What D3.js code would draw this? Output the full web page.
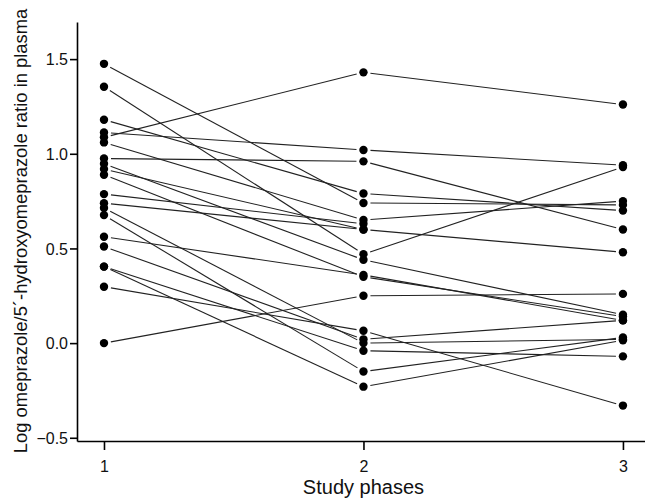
<!DOCTYPE html>
<html>
<head>
<meta charset="utf-8">
<script src="https://cdn.jsdelivr.net/npm/d3@7"></script>
<style>
  body { margin: 0; background: #fff; }
  svg { display: block; font-family: "Liberation Sans", Arial, sans-serif; }
</style>
</head>
<body>
<div id="chart"></div>
<script>
// 各被験者の値（フェーズ1, 2, 3）
const phases = [1, 2, 3];
const phase1 = [1.475, 1.354, 1.18, 1.112, 1.087, 1.06, 0.975, 0.947, 0.919, 0.889, 0.787, 0.739, 0.714, 0.676, 0.562, 0.51, 0.404, 0.404, 0.298, 0.00];
const phase2 = [0.74, 0.47, 0.79, 1.02, 1.43, 0.65, 0.96, 0.44, 0.60, 0.35, 0.63, 0.60, 0.00, -0.15, 0.36, 0.02, -0.04, -0.23, 0.065, 0.25];
const phase3 = [0.73, 0.93, 0.70, 0.94, 1.26, 0.75, 0.60, 0.15, 0.48, 0.14, null, null, 0.02, 0.03, 0.12, 0.12, -0.07, 0.015, -0.33, 0.26];
const yTicks = [-0.5, 0.0, 0.5, 1.0, 1.5];

const width = 645, height = 498;
const svg = d3.select('#chart').append('svg')
  .attr('width', width).attr('height', height);

const x = d3.scaleLinear().domain([0.896, 3.085]).range([77, 645]);
const y = d3.scaleLinear().domain([-0.517, 1.696]).range([441, 22]);

const subjects = phase1.map((v, i) => [v, phase2[i], phase3[i]]);

// 線（点から少し離して描く）
const gap = 7;
const segs = [];
subjects.forEach(s => {
  for (let k = 0; k < 2; k++) {
    if (s[k] == null || s[k + 1] == null) continue;
    const x1 = x(phases[k]), y1 = y(s[k]), x2 = x(phases[k + 1]), y2 = y(s[k + 1]);
    const len = Math.hypot(x2 - x1, y2 - y1);
    const ux = (x2 - x1) / len, uy = (y2 - y1) / len;
    segs.push([x1 + ux * gap, y1 + uy * gap, x2 - ux * gap, y2 - uy * gap]);
  }
});
svg.append('g').selectAll('line').data(segs).enter().append('line')
  .attr('x1', d => d[0]).attr('y1', d => d[1])
  .attr('x2', d => d[2]).attr('y2', d => d[3])
  .attr('stroke', '#222').attr('stroke-width', 1.1);

// 点
const pts = [];
subjects.forEach(s => s.forEach((v, k) => { if (v != null) pts.push([phases[k], v]); }));
svg.append('g').selectAll('circle').data(pts).enter().append('circle')
  .attr('cx', d => x(d[0])).attr('cy', d => y(d[1]))
  .attr('r', 4.2).attr('fill', '#000');

// 軸
const yAxis = svg.append('g').attr('transform', 'translate(77,0)')
  .call(d3.axisLeft(y).tickValues(yTicks).tickFormat(d3.format('.1f')).tickSize(7).tickSizeOuter(0));
const xAxis = svg.append('g').attr('transform', 'translate(0,441)')
  .call(d3.axisBottom(x).tickValues(phases).tickFormat(d3.format('d')).tickSize(9).tickSizeOuter(0));

[yAxis, xAxis].forEach(a => {
  a.select('.domain').attr('stroke', '#000').attr('stroke-width', 1.6);
  a.selectAll('.tick line').attr('stroke', '#000').attr('stroke-width', 1.6);
  a.selectAll('.tick text').attr('fill', '#111').style('font-size', '16px');
});
yAxis.selectAll('.tick text').attr('x', -9).attr('dy', '0.36em');
xAxis.selectAll('.tick text').attr('y', 20);

// 軸タイトル
svg.append('text')
  .attr('transform', `translate(27,231) rotate(-90)`)
  .attr('text-anchor', 'middle')
  .style('font-size', '18.4px').attr('fill', '#111')
  .text('Log omeprazole/5´-hydroxyomeprazole ratio in plasma');

svg.append('text')
  .attr('x', x(2)).attr('y', 494)
  .attr('text-anchor', 'middle')
  .style('font-size', '20px').attr('fill', '#111')
  .text('Study phases');
</script>
</body>
</html>
